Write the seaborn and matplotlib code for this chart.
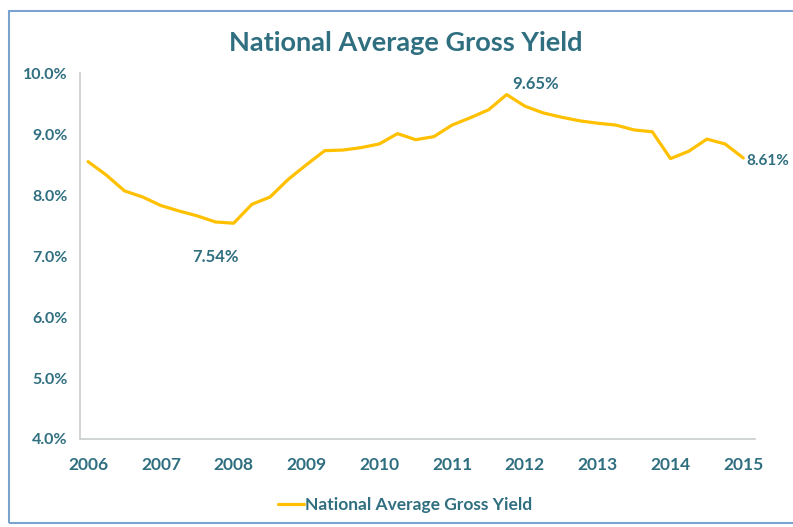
import numpy as np
import pandas as pd
import matplotlib
matplotlib.use("Agg")
import matplotlib.pyplot as plt
from matplotlib.patches import Rectangle
from matplotlib.ticker import MultipleLocator, FuncFormatter
import seaborn as sns

# quarterly readings, 2006 Q1 .. 2015 Q1
quarters = [2006 + q / 4 for q in range(37)]
gross_yield = [
    8.55, 8.33, 8.07, 7.97, 7.83, 7.74, 7.66, 7.56, 7.54, 7.85,
    7.97, 8.26, 8.50, 8.73, 8.74, 8.78, 8.84, 9.01, 8.91, 8.96,
    9.15, 9.27, 9.40, 9.65, 9.46, 9.35, 9.28, 9.22, 9.18, 9.15,
    9.07, 9.04, 8.60, 8.72, 8.92, 8.84, 8.61,
]
years = list(range(2006, 2016))
series_name = "National Average Gross Yield"

df = pd.DataFrame({"date": quarters, "yield": gross_yield, "series": series_name})

sns.set_style("white")
plt.rcParams["font.family"] = ["Lato", "DejaVu Sans"]

teal = "#2f6f80"
gold = "#ffc000"

fig = plt.figure(figsize=(7.93, 5.27), dpi=100)
ax = fig.add_axes([0.101, 0.167, 0.851, 0.694])

sns.lineplot(data=df, x="date", y="yield", hue="series", palette=[gold],
             linewidth=2.3, ax=ax)

ax.set_xlim(2005.89, 2015.16)
ax.set_ylim(4.0, 10.0)
ax.xaxis.set_minor_locator(MultipleLocator(0.25))
ax.yaxis.set_major_locator(MultipleLocator(1))
ax.set_xticks(years)
ax.set_xticklabels([str(y) for y in years])
ax.yaxis.set_major_formatter(FuncFormatter(lambda v, p: f"{v:.1f}%"))

for side in ["top", "right"]:
    ax.spines[side].set_visible(False)
for side in ["left", "bottom"]:
    ax.spines[side].set_color("#c9cdcd")
    ax.spines[side].set_linewidth(1.2)

ax.tick_params(axis="both", which="both", direction="out", color="#c9cdcd")
ax.tick_params(axis="x", which="major", length=4, pad=9, labelsize=12.5,
               labelcolor=teal)
ax.tick_params(axis="x", which="minor", length=3)
ax.tick_params(axis="y", which="major", length=4, pad=5, labelsize=11.5,
               labelcolor=teal)
for lbl in ax.get_xticklabels() + ax.get_yticklabels():
    lbl.set_fontweight("bold")

ax.set_xlabel("")
ax.set_ylabel("")

# point labels
lo = int(np.argmin(gross_yield))
hi = int(np.argmax(gross_yield))
ax.annotate(f"{gross_yield[lo]:.2f}%", (quarters[lo], gross_yield[lo]),
            xytext=(-13, -28), textcoords="offset points", ha="center",
            color=teal, fontsize=12, fontweight="bold")
ax.annotate(f"{gross_yield[hi]:.2f}%", (quarters[hi], gross_yield[hi]),
            xytext=(21, 4), textcoords="offset points", ha="center",
            color=teal, fontsize=12, fontweight="bold")
ax.annotate(f"{gross_yield[-1]:.2f}%", (quarters[-1], gross_yield[-1]),
            xytext=(2, -5), textcoords="offset points", ha="left",
            color=teal, fontsize=11, fontweight="bold", annotation_clip=False)

fig.text(0.512, 0.918, "National Average Gross Yield", ha="center",
         va="center", color=teal, fontsize=19.5, fontweight="bold")

leg = ax.legend(loc="center", bbox_to_anchor=(0.482, -0.18), frameon=False,
                handlelength=1.5, handletextpad=0.05, fontsize=12.5)
for t in leg.get_texts():
    t.set_color(teal)
    t.set_fontweight("bold")

# blue chart frame
fig.add_artist(Rectangle((0.011, 0.008), 1.2, 0.972, transform=fig.transFigure,
                         fill=False, edgecolor="#7aa3cf", linewidth=1.5))

fig.savefig("out.png", dpi=100)
